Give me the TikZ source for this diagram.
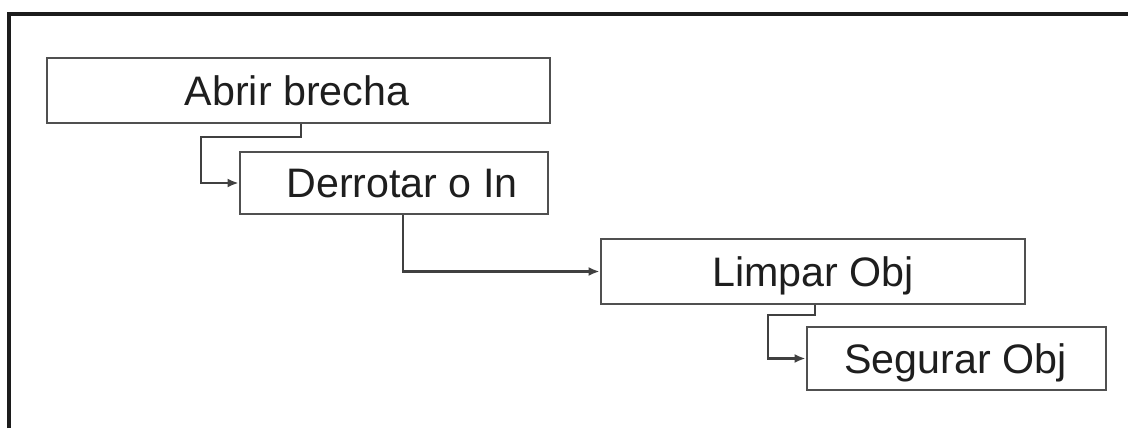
\documentclass[tikz,border=0pt]{standalone}
\usepackage{fontspec}
\setmainfont{Liberation Sans}
\usetikzlibrary{arrows.meta,calc}
\definecolor{boxline}{HTML}{505050}
\definecolor{connline}{HTML}{404040}
\definecolor{txt}{HTML}{1E1E1E}
\definecolor{frameline}{HTML}{1C1C1C}
\tikzset{
  stepbox/.style={draw=boxline, line width=1.4pt, rectangle, inner sep=0pt, fill=white},
  lbl/.style={font=\fontsize{20.6}{22}\selectfont, text=txt, inner sep=0pt, text height=14.75pt, text depth=0pt},
  conn/.style={draw=connline, line width=1.2pt, -{Latex[length=5.5pt,width=4.5pt]}},
  framestyle/.style={draw=frameline, line width=2.2pt}
}
\begin{document}
\begin{tikzpicture}[x=0.5pt,y=-0.5pt]
\useasboundingbox (0,0) rectangle (1128,428);
% outer frame (top and left only visible)
\coordinate (f0) at (9,428);
\coordinate (f1) at (9,14);
\coordinate (f2) at (1128,14);
\draw[framestyle] (f0) -- (f1) -- (f2);
% boxes
\node[stepbox, minimum width=251.5pt, minimum height=32.5pt] (b1) at (298.5,90.5) {};
\node[stepbox, minimum width=154pt, minimum height=31pt] (b2) at (394,183) {};
\node[stepbox, minimum width=212pt, minimum height=32.5pt] (b3) at (813,271.5) {};
\node[stepbox, minimum width=149.5pt, minimum height=31.5pt] (b4) at (956.5,358.5) {};
% labels
\node[lbl] (t1) at (297,90.5) {Abrir brecha};
\node[lbl] (t2) at (402,183) {Derrotar o In};
\node[lbl] (t3) at (813,271.5) {Limpar Obj};
\node[lbl] (t4) at (955.5,358.5) {Segurar Obj};
% connectors
\coordinate (k1) at (301,137);
\coordinate (k1a) at (201,137);
\draw[conn] (k1 |- b1.south) -- (k1) -- (k1a) |- (b2.west);
\coordinate (k2) at (403,272);
\draw[conn] (k2 |- b2.south) |- (b3.west);
\coordinate (k3) at (815,315);
\coordinate (k3a) at (768,315);
\draw[conn] (k3 |- b3.south) -- (k3) -- (k3a) |- (b4.west);
\end{tikzpicture}
\end{document}
